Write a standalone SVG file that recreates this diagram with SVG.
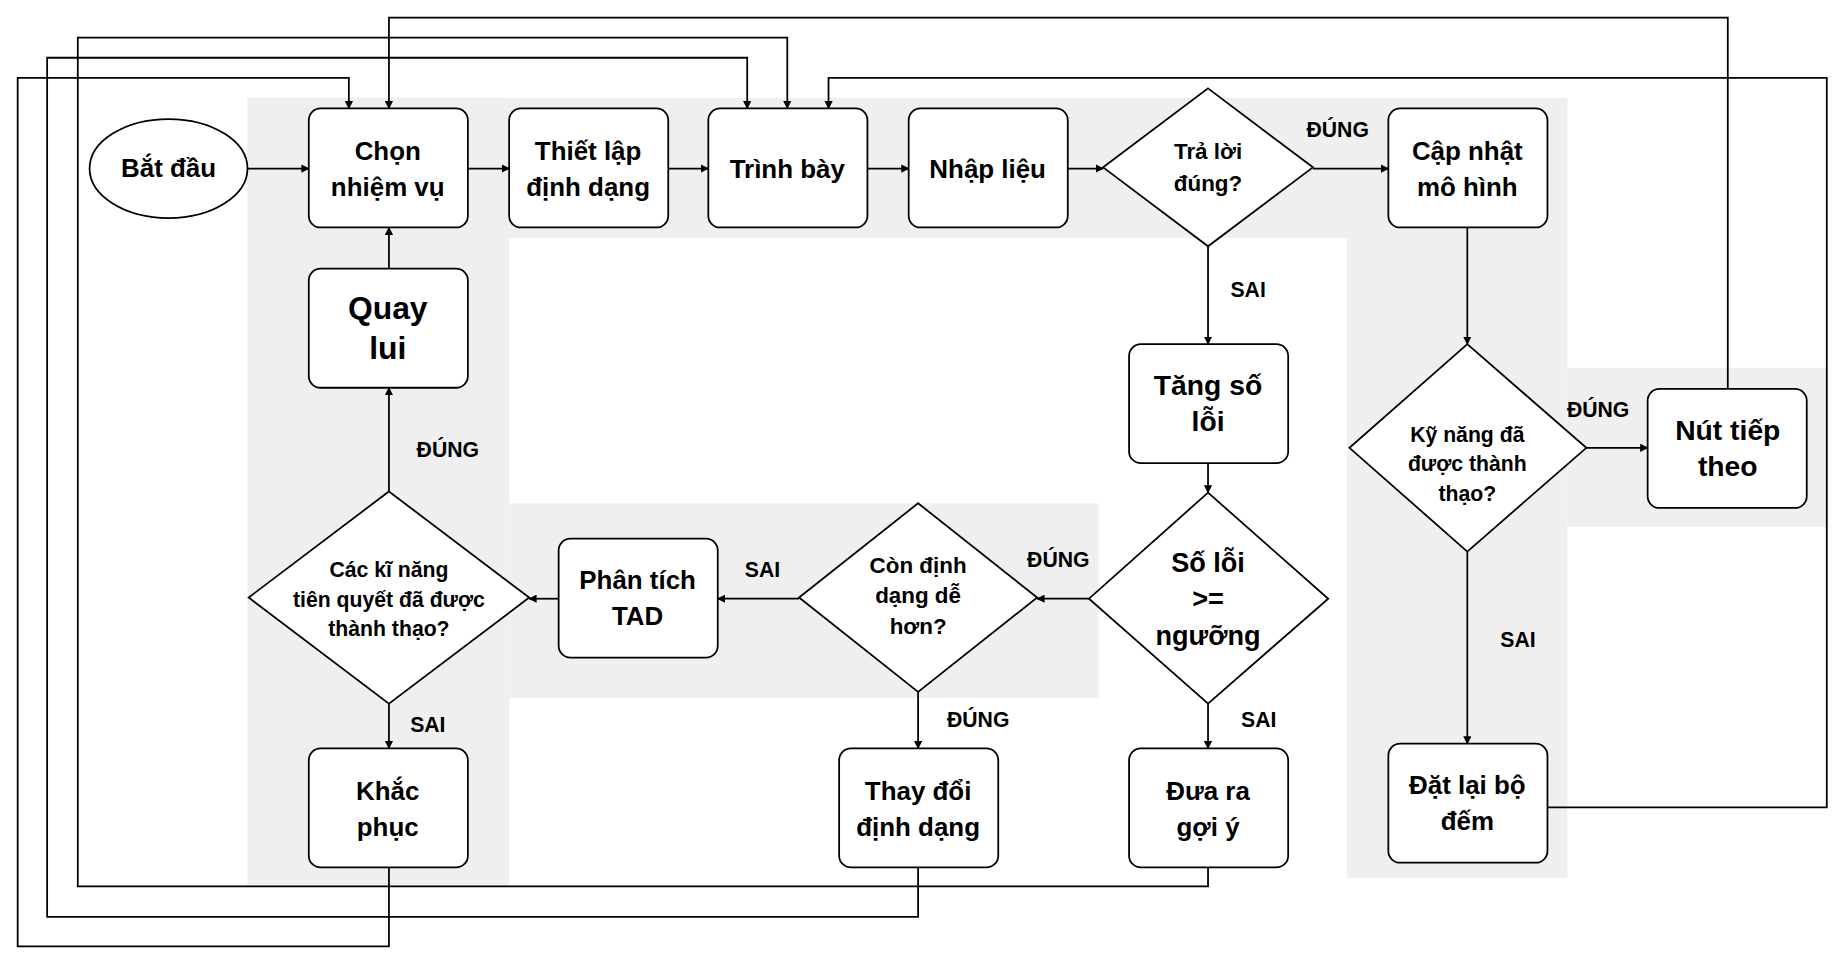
<svg xmlns="http://www.w3.org/2000/svg" width="1848" height="967" viewBox="0 0 1848 967">
<style>
.n{fill:#fff;stroke:#000;stroke-width:1.5}
.t{font-family:"Liberation Sans",Arial,sans-serif;font-weight:bold;text-anchor:middle;fill:#000}
.b{font-size:22px}.d{font-size:19px}.l{font-size:18px}
.c{fill:none;stroke:#000;stroke-width:1.5}
.bg{fill:#efefef}
</style>
<defs><marker id="a" viewBox="0 0 10 10" refX="9" refY="5" markerWidth="7" markerHeight="7" orient="auto" markerUnits="userSpaceOnUse"><path d="M0,0L10,5L0,10z" fill="#000"/></marker></defs>
<rect width="1848" height="967" fill="#fff"/>
<g transform="scale(1.17857)">
<g id="bg">
<rect class="bg" x="210" y="83" width="1120" height="119"/>
<rect class="bg" x="210" y="83" width="222" height="669"/>
<rect class="bg" x="1143" y="202" width="187" height="543"/>
<rect class="bg" x="1330" y="312" width="220" height="135"/>
<rect class="bg" x="432" y="427" width="500" height="165"/>
</g>
<g id="connectors" class="c" marker-end="url(#a)">
<path d="M210,143H262"/><path d="M397,143H432"/><path d="M567,143H601"/><path d="M736,143H771"/><path d="M906,143H936"/>
<path d="M1114,143H1178"/><path d="M1025,209V292"/><path d="M1025,393V418"/><path d="M1025,597V635"/>
<path d="M924,508H880"/><path d="M678,508H609"/><path d="M779,587V635"/><path d="M474,508H449"/>
<path d="M330,417V329"/><path d="M330,597V635"/><path d="M330,228V193"/>
<path d="M1245,193V292"/><path d="M1346,380H1398"/><path d="M1245,468V631"/>
<path d="M1466,330V15H330V92"/>
<path d="M1313,685H1550V66H703V92"/>
<path d="M1025,736V752H66V32H668V92"/>
<path d="M779,736V778H40V49H634V92"/>
<path d="M330,736V803H15V66H296V92"/>
</g>
<g id="labels" class="t l">
<text x="1135" y="116">ĐÚNG</text><text x="1059" y="252">SAI</text><text x="1068" y="617">SAI</text>
<text x="898" y="481">ĐÚNG</text><text x="647" y="490">SAI</text><text x="830" y="617">ĐÚNG</text>
<text x="380" y="388">ĐÚNG</text><text x="363" y="621">SAI</text><text x="1356" y="354">ĐÚNG</text><text x="1288" y="549">SAI</text>
</g>
<g id="start"><ellipse class="n" cx="143" cy="143" rx="67" ry="42"/><text class="t b" x="143" y="150">Bắt đầu</text></g>
<g id="chon"><rect class="n" x="262" y="92" width="135" height="101" rx="10"/><text class="t b" x="329" y="136">Chọn</text><text class="t b" x="329" y="166">nhiệm vụ</text></g>
<g id="thietlap"><rect class="n" x="432" y="92" width="135" height="101" rx="10"/><text class="t b" x="499" y="136">Thiết lập</text><text class="t b" x="499" y="166">định dạng</text></g>
<g id="trinhbay"><rect class="n" x="601" y="92" width="135" height="101" rx="10"/><text class="t b" x="668" y="151">Trình bày</text></g>
<g id="nhaplieu"><rect class="n" x="771" y="92" width="135" height="101" rx="10"/><text class="t b" x="838" y="151">Nhập liệu</text></g>
<g id="traloi"><path class="n" d="M1025,75L1114,142L1025,209L936,142Z"/><text class="t d" x="1025" y="135">Trả lời</text><text class="t d" x="1025" y="162">đúng?</text></g>
<g id="capnhat"><rect class="n" x="1178" y="92" width="135" height="101" rx="10"/><text class="t b" x="1245" y="136">Cập nhật</text><text class="t b" x="1245" y="166">mô hình</text></g>
<g id="tang"><rect class="n" x="958" y="292" width="135" height="101" rx="10"/><text class="t" font-size="24" x="1025" y="335">Tăng số</text><text class="t" font-size="24" x="1025" y="366">lỗi</text></g>
<g id="soloi"><path class="n" d="M1025,418L1127,508L1025,597L924,508Z"/><text class="t" font-size="23" x="1025" y="485">Số lỗi</text><text class="t" font-size="23" x="1025" y="516">&gt;=</text><text class="t" font-size="23" x="1025" y="547">ngưỡng</text></g>
<g id="duara"><rect class="n" x="958" y="635" width="135" height="101" rx="10"/><text class="t b" x="1025" y="679">Đưa ra</text><text class="t b" x="1025" y="709">gợi ý</text></g>
<g id="con"><path class="n" d="M779,427L880,507L779,587L678,507Z"/><text class="t d" x="779" y="486">Còn định</text><text class="t d" x="779" y="512">dạng dễ</text><text class="t d" x="779" y="538">hơn?</text></g>
<g id="thaydoi"><rect class="n" x="712" y="635" width="135" height="101" rx="10"/><text class="t b" x="779" y="679">Thay đổi</text><text class="t b" x="779" y="709">định dạng</text></g>
<g id="phantich"><rect class="n" x="474" y="457" width="135" height="101" rx="10"/><text class="t b" x="541" y="500">Phân tích</text><text class="t b" x="541" y="530">TAD</text></g>
<g id="cackn"><path class="n" d="M330,417L449,507L330,597L211,507Z"/><text class="t l" x="330" y="490">Các kĩ năng</text><text class="t l" x="330" y="515">tiên quyết đã được</text><text class="t l" x="330" y="540">thành thạo?</text></g>
<g id="khacphuc"><rect class="n" x="262" y="635" width="135" height="101" rx="10"/><text class="t b" x="329" y="679">Khắc</text><text class="t b" x="329" y="709">phục</text></g>
<g id="quaylui"><rect class="n" x="262" y="228" width="135" height="101" rx="10"/><text class="t" font-size="27" x="329" y="271">Quay</text><text class="t" font-size="27" x="329" y="305">lui</text></g>
<g id="kynang"><path class="n" d="M1245,292L1346,380L1245,468L1145,380Z"/><text class="t l" x="1245" y="375">Kỹ năng đã</text><text class="t l" x="1245" y="400">được thành</text><text class="t l" x="1245" y="425">thạo?</text></g>
<g id="nut"><rect class="n" x="1398" y="330" width="135" height="101" rx="10"/><text class="t" font-size="24" x="1466" y="373">Nút tiếp</text><text class="t" font-size="24" x="1466" y="404">theo</text></g>
<g id="datlai"><rect class="n" x="1178" y="631" width="135" height="101" rx="10"/><text class="t b" x="1245" y="674">Đặt lại bộ</text><text class="t b" x="1245" y="704">đếm</text></g>
</g>
</svg>
